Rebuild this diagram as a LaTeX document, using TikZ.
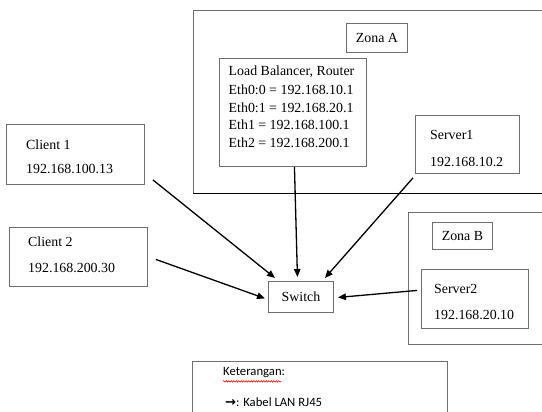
\documentclass[tikz,border=0pt]{standalone}
\usepackage{fontspec}
\setmainfont{Liberation Serif}
\newfontfamily\calibfont{Carlito}
\newfontfamily\symfont{DejaVu Sans}
\usetikzlibrary{arrows.meta,calc,decorations.pathmorphing}
\definecolor{boxgray}{HTML}{6E6E6E}
\begin{document}
\begin{tikzpicture}[x=1pt,y=-1pt,
  boxnode/.style={draw=boxgray, line width=0.9pt, inner sep=0pt, anchor=north west},
  txt/.style={anchor=west, inner sep=0pt, font=\fontsize{13.9}{16}\selectfont},
  ctxt/.style={inner sep=0pt, font=\fontsize{13.9}{16}\selectfont},
  legtxt/.style={anchor=west, inner sep=0pt, font=\calibfont\fontsize{12.7}{15}\selectfont},
  link/.style={draw=black, line width=1.3pt, -{Triangle[length=8pt,width=6.5pt]}}]
\useasboundingbox (0,0) rectangle (542,412);
\clip (0,0) rectangle (542,412);
\fill[white] (0,0) rectangle (542,412);

% zones
\node[boxnode, minimum width=370pt, minimum height=183pt] (zonaA) at (193,10) {};
\draw[black, line width=1pt] (zonaA.south west) -- (zonaA.south east);
\node[boxnode, minimum width=152pt, minimum height=132pt] (zonaB) at (408,212) {};

% zone labels
\node[boxnode, minimum width=61pt, minimum height=29pt] (labA) at (346,23) {};
\node[ctxt] (labAt) at (labA.center) {Zona A};
\node[boxnode, minimum width=60pt, minimum height=27pt] (labB) at (432,222) {};
\node[ctxt] (labBt) at (labB.center) {Zona B};

% load balancer
\node[boxnode, minimum width=147pt, minimum height=108pt] (lb) at (219,58) {};
\node[txt] (lb1) at (228.5,72) {Load Balancer, Router};
\node[txt] (lb2) at (228.5,89.7) {Eth0:0 = 192.168.10.1};
\node[txt] (lb3) at (228.5,107.4) {Eth0:1 = 192.168.20.1};
\node[txt] (lb4) at (228.5,125.1) {Eth1 = 192.168.100.1};
\node[txt] (lb5) at (228.5,142.8) {Eth2 = 192.168.200.1};

% server1
\node[boxnode, minimum width=104pt, minimum height=58pt] (srv1) at (415,115) {};
\node[txt] (srv1a) at (430,135) {Server1};
\node[txt] (srv1b) at (430,162) {192.168.10.2};

% clients
\node[boxnode, minimum width=138pt, minimum height=60pt] (cl1) at (6,124) {};
\node[txt] (cl1a) at (26,145) {Client 1};
\node[txt] (cl1b) at (26,169) {192.168.100.13};
\node[boxnode, minimum width=138pt, minimum height=59pt] (cl2) at (9,227) {};
\node[txt] (cl2a) at (28,242) {Client 2};
\node[txt] (cl2b) at (28,268) {192.168.200.30};

% switch
\node[boxnode, minimum width=65pt, minimum height=31pt] (sw) at (268,281) {};
\node[ctxt] (swt) at (sw.center) {Switch};

% server2
\node[boxnode, minimum width=107pt, minimum height=59pt] (srv2) at (421,269) {};
\node[txt] (srv2a) at (434,289) {Server2};
\node[txt] (srv2b) at (434,315) {192.168.20.10};

% links
\draw[link] ($(cl1.south east)+(8,-5)$) -- ($(sw.north west)+(7,-3)$);
\draw[link] ($(cl2.east)+(8,2.5)$) -- ($(sw.west)+(-3,1.5)$);
\draw[link] ($(lb.south)+(1.5,0)$) -- ($(sw.north)+(-3.5,-4)$);
\draw[link] ($(srv1.south west)+(-2,4)$) -- ($(sw.north east)+(-9,-3)$);
\draw[link] ($(srv2.west)+(-4,-8.5)$) -- ($(sw.east)+(4,0.5)$);

% legend
\node[boxnode, minimum width=255pt, minimum height=70pt] (leg) at (192,361) {};
\node[legtxt] (leg1) at (223,373) {Keterangan:};
\draw[red, line width=0.5pt, decorate, decoration={snake, amplitude=0.8pt, segment length=2.5pt}] ($(leg1.south west)+(0,3)$) -- ($(leg1.south east)+(-4,3)$);
\node[legtxt] (leg2) at (225,402) {{\symfont\bfseries\fontsize{13}{14}\selectfont →}: Kabel LAN RJ45};
\end{tikzpicture}
\end{document}
